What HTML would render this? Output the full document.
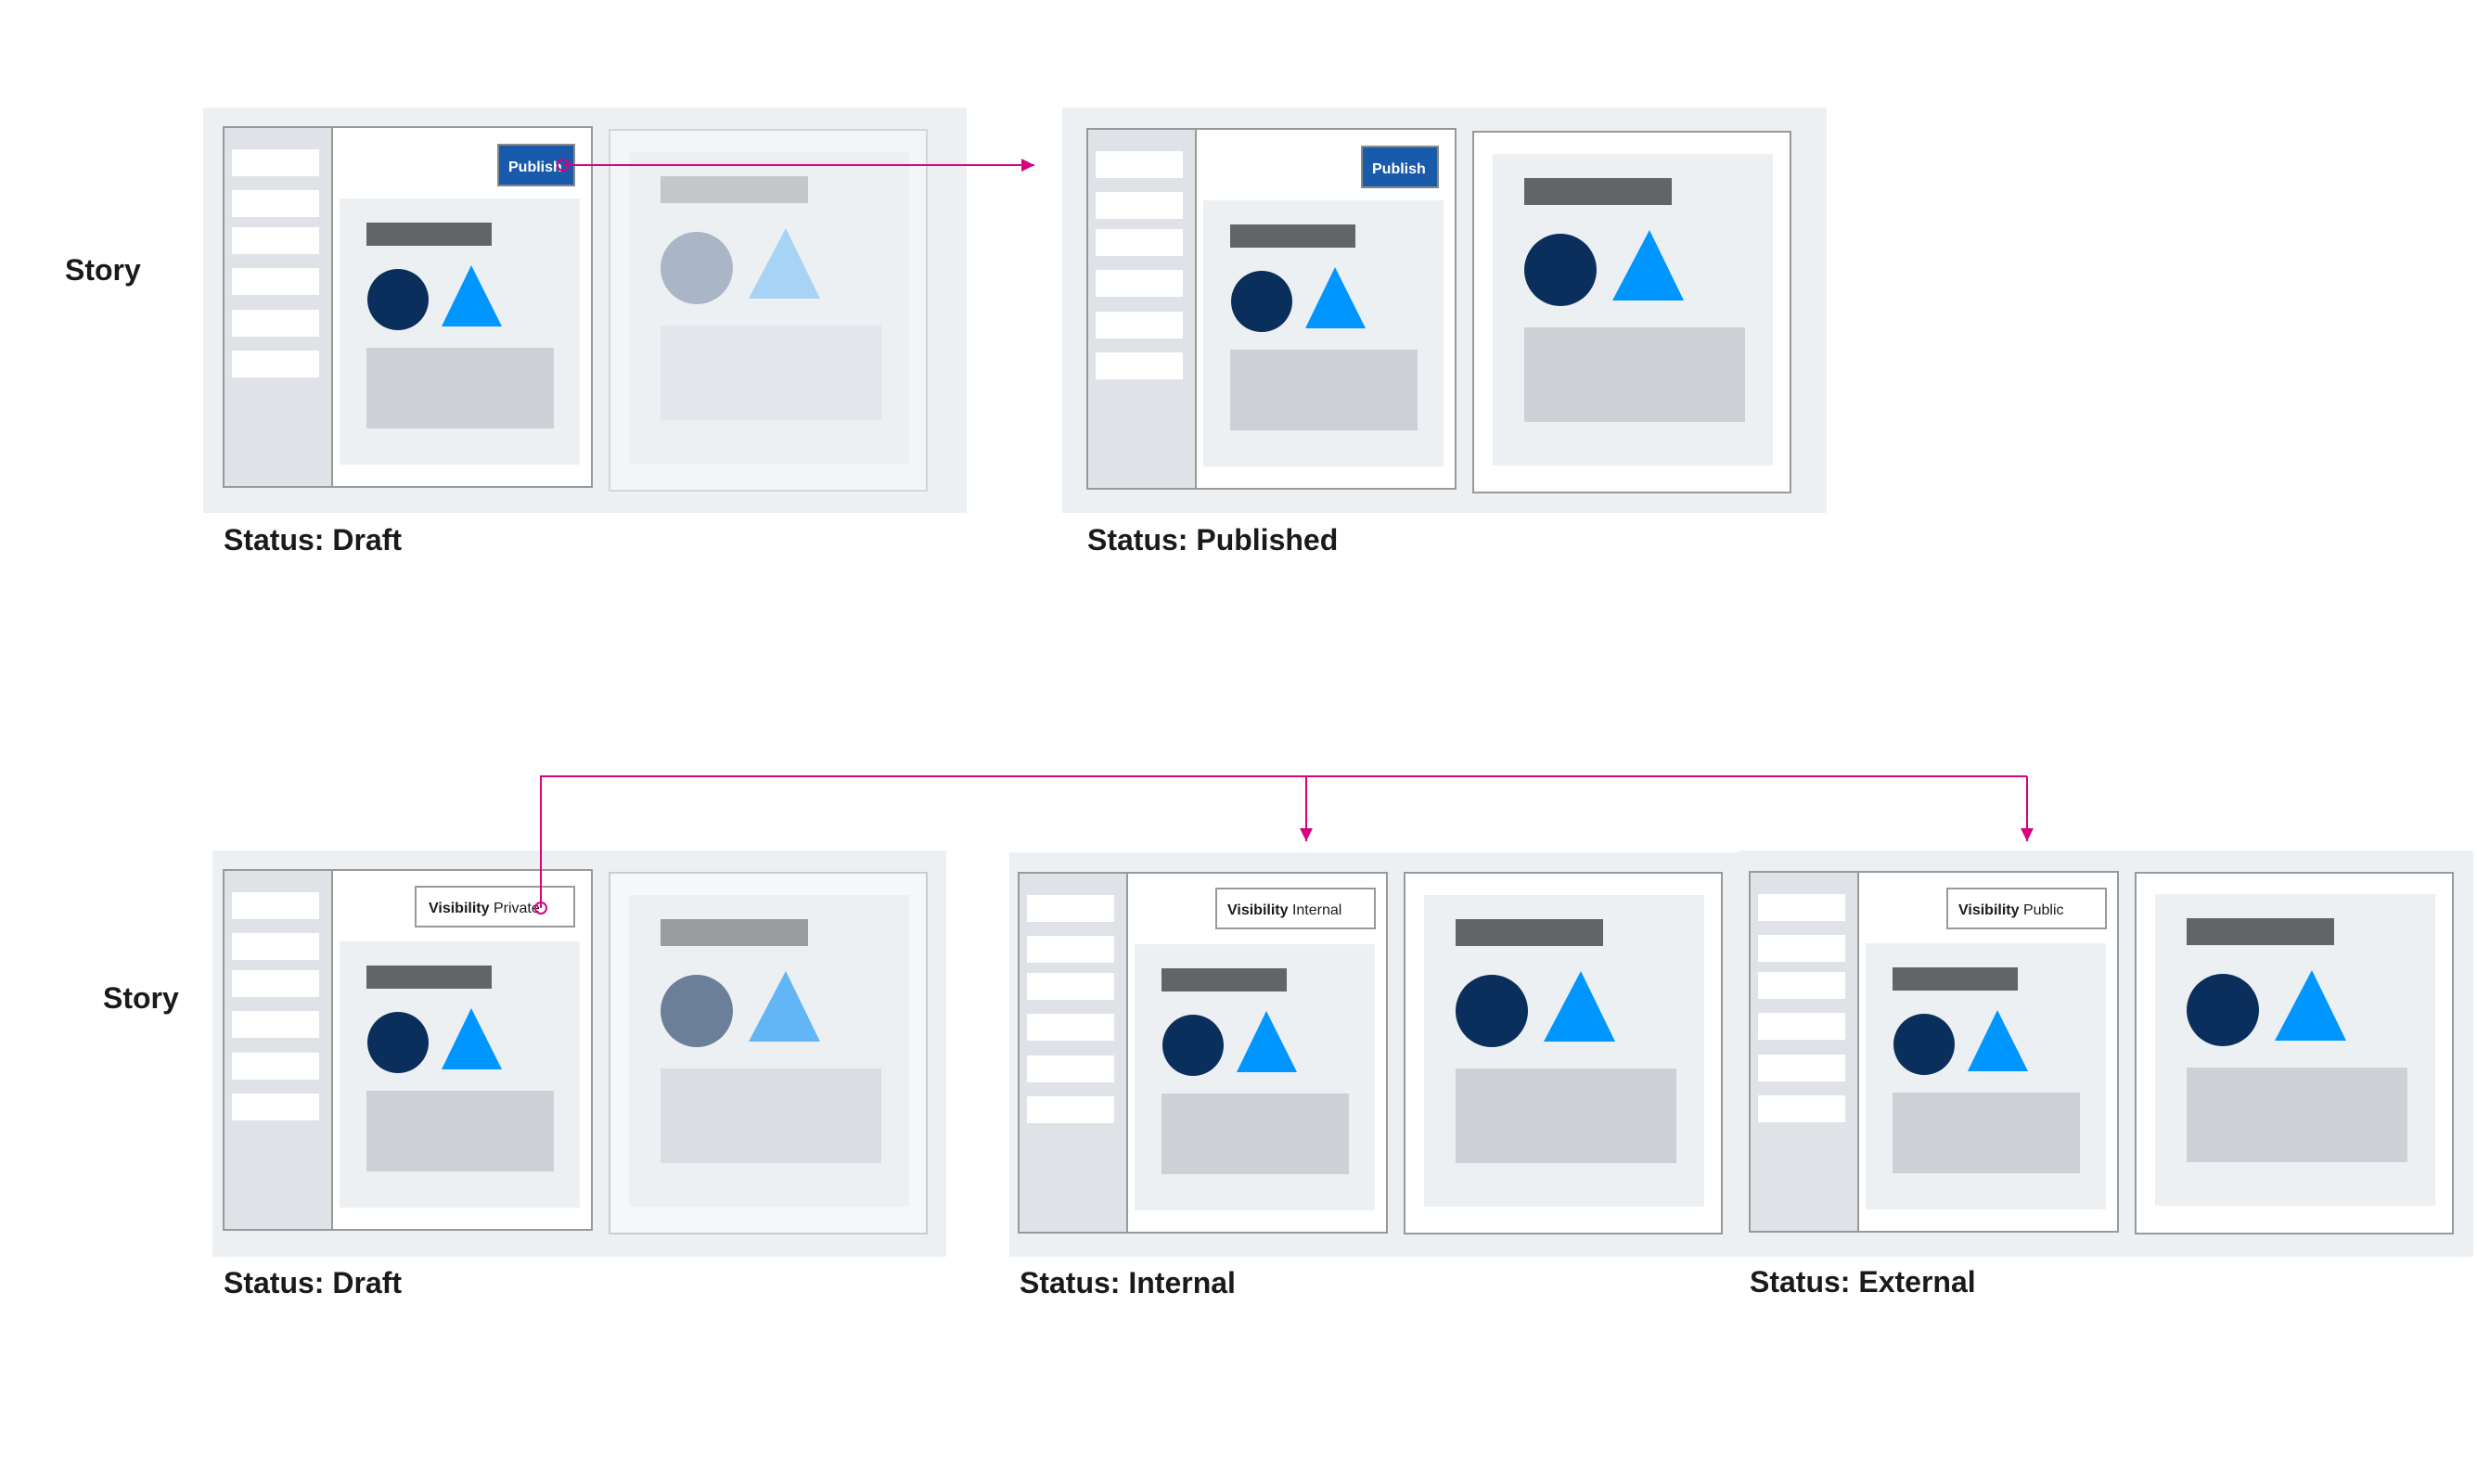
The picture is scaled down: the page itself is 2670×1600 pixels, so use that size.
<!DOCTYPE html>
<html><head><meta charset="utf-8"><style>
html,body{margin:0;padding:0;background:#fff;}
svg{display:block}
text{font-family:"Liberation Sans",sans-serif;}
</style></head><body>
<svg width="2670" height="1600" viewBox="0 0 2670 1600" xmlns="http://www.w3.org/2000/svg">
<defs>
<marker id="ah" markerWidth="10" markerHeight="10" refX="9" refY="5" orient="auto" markerUnits="userSpaceOnUse"><path d="M0,0 L10,5 L0,10 z" fill="#d9007e"/></marker>
<marker id="ah2" viewBox="0 0 10 10" markerWidth="14" markerHeight="18" refX="10" refY="5" orient="auto" markerUnits="userSpaceOnUse"><path d="M0,0 L10,5 L0,10 z" fill="#d9007e"/></marker>
</defs>

<!-- ============ TOP ROW ============ -->
<text x="70" y="302" font-size="32" font-weight="bold" fill="#1a1a1a">Story</text>

<!-- Panel 1 -->
<rect x="219" y="116" width="823" height="437" fill="#edf0f3"/>
<g transform="translate(241,137)">
  <rect x="0" y="0" width="397" height="388" fill="#fff" stroke="#999" stroke-width="2"/>
  <rect x="1" y="1" width="116" height="386" fill="#dfe2e6"/>
  <line x1="117" y1="0" x2="117" y2="388" stroke="#999" stroke-width="2"/>
  <rect x="9" y="24" width="94" height="29" fill="#fff"/><rect x="9" y="68" width="94" height="29" fill="#fff"/><rect x="9" y="108" width="94" height="29" fill="#fff"/><rect x="9" y="152" width="94" height="29" fill="#fff"/><rect x="9" y="197" width="94" height="29" fill="#fff"/><rect x="9" y="241" width="94" height="29" fill="#fff"/>
  <rect x="296" y="19" width="82" height="44" fill="#1a5aab" stroke="#888" stroke-width="2"/>
  <text x="307" y="48" font-size="16" font-weight="bold" fill="#fff">Publish</text>
  <rect x="125" y="77" width="259" height="287" fill="#edf0f3"/>
  <rect x="154" y="103" width="135" height="25" fill="#636466"/>
  <circle cx="188" cy="186" r="33" fill="#0a2f5c"/>
  <polygon points="267,149 300,215 235,215" fill="#0096ff"/>
  <rect x="154" y="238" width="202" height="87" fill="#cdd1d6"/>
</g>
<g transform="translate(241,137)">
  <rect x="416" y="3" width="342" height="389" fill="#f3f5f8" stroke="#d3d6da" stroke-width="2"/>
  <rect x="437" y="27" width="302" height="336" fill="#edf0f3"/>
  <rect x="471" y="53" width="159" height="29" fill="#c5c6c9"/>
  <ellipse cx="510" cy="152" rx="39" ry="39" fill="#aab6c6"/>
  <polygon points="606,109 643,185 566,185" fill="#a7d4f5"/>
  <rect x="471" y="214" width="238" height="102" fill="#e3e7eb"/>
</g>
<text x="241" y="593" font-size="32" font-weight="bold" fill="#1a1a1a">Status: Draft</text>

<!-- Panel 2 -->
<rect x="1145" y="116" width="824" height="437" fill="#edf0f3"/>
<g transform="translate(1172,139)">
  <rect x="0" y="0" width="397" height="388" fill="#fff" stroke="#999" stroke-width="2"/>
  <rect x="1" y="1" width="116" height="386" fill="#dfe2e6"/>
  <line x1="117" y1="0" x2="117" y2="388" stroke="#999" stroke-width="2"/>
  <rect x="9" y="24" width="94" height="29" fill="#fff"/><rect x="9" y="68" width="94" height="29" fill="#fff"/><rect x="9" y="108" width="94" height="29" fill="#fff"/><rect x="9" y="152" width="94" height="29" fill="#fff"/><rect x="9" y="197" width="94" height="29" fill="#fff"/><rect x="9" y="241" width="94" height="29" fill="#fff"/>
  <rect x="296" y="19" width="82" height="44" fill="#1a5aab" stroke="#888" stroke-width="2"/>
  <text x="307" y="48" font-size="16" font-weight="bold" fill="#fff">Publish</text>
  <rect x="125" y="77" width="259" height="287" fill="#edf0f3"/>
  <rect x="154" y="103" width="135" height="25" fill="#636466"/>
  <circle cx="188" cy="186" r="33" fill="#0a2f5c"/>
  <polygon points="267,149 300,215 235,215" fill="#0096ff"/>
  <rect x="154" y="238" width="202" height="87" fill="#cdd1d6"/>
  <rect x="416" y="3" width="342" height="389" fill="#fff" stroke="#999" stroke-width="2"/>
  <rect x="437" y="27" width="302" height="336" fill="#edf0f3"/>
  <rect x="471" y="53" width="159" height="29" fill="#636466"/>
  <circle cx="510" cy="152" r="39" fill="#0a2f5c"/>
  <polygon points="606,109 643,185 566,185" fill="#0096ff"/>
  <rect x="471" y="214" width="238" height="102" fill="#cdd1d6"/>
</g>
<text x="1172" y="593" font-size="32" font-weight="bold" fill="#1a1a1a">Status: Published</text>

<!-- top arrow -->
<line x1="607" y1="178" x2="1115" y2="178" stroke="#d9007e" stroke-width="2" marker-end="url(#ah2)"/>
<circle cx="607" cy="178" r="6" fill="none" stroke="#d9007e" stroke-width="2"/>

<!-- ============ BOTTOM ROW ============ -->
<text x="111" y="1087" font-size="32" font-weight="bold" fill="#1a1a1a">Story</text>

<!-- Draft -->
<rect x="229" y="917" width="791" height="438" fill="#edf0f3"/>
<g transform="translate(241,938)">
  <rect x="0" y="0" width="397" height="388" fill="#fff" stroke="#999" stroke-width="2"/>
  <rect x="1" y="1" width="116" height="386" fill="#dfe2e6"/>
  <line x1="117" y1="0" x2="117" y2="388" stroke="#999" stroke-width="2"/>
  <rect x="9" y="24" width="94" height="29" fill="#fff"/><rect x="9" y="68" width="94" height="29" fill="#fff"/><rect x="9" y="108" width="94" height="29" fill="#fff"/><rect x="9" y="152" width="94" height="29" fill="#fff"/><rect x="9" y="197" width="94" height="29" fill="#fff"/><rect x="9" y="241" width="94" height="29" fill="#fff"/>
  <rect x="207" y="18" width="171" height="43" fill="#fff" stroke="#999" stroke-width="2"/>
  <text x="221" y="46" font-size="16" fill="#1a1a1a"><tspan font-weight="bold">Visibility</tspan> Private</text>
  <rect x="125" y="77" width="259" height="287" fill="#edf0f3"/>
  <rect x="154" y="103" width="135" height="25" fill="#636466"/>
  <circle cx="188" cy="186" r="33" fill="#0a2f5c"/>
  <polygon points="267,149 300,215 235,215" fill="#0096ff"/>
  <rect x="154" y="238" width="202" height="87" fill="#cdd1d6"/>
  <rect x="416" y="3" width="342" height="389" fill="#f6f7f9" stroke="#c9ccd0" stroke-width="2"/>
  <rect x="437" y="27" width="302" height="336" fill="#edf0f3"/>
  <rect x="471" y="53" width="159" height="29" fill="#9a9c9f"/>
  <circle cx="510" cy="152" r="39" fill="#6b7f99"/>
  <polygon points="606,109 643,185 566,185" fill="#62b6f5"/>
  <rect x="471" y="214" width="238" height="102" fill="#dadde1"/>
</g>
<text x="241" y="1394" font-size="32" font-weight="bold" fill="#1a1a1a">Status: Draft</text>

<!-- Internal -->
<rect x="1088" y="919" width="787" height="436" fill="#edf0f3"/>
<g transform="translate(1098,941)">
  <rect x="0" y="0" width="397" height="388" fill="#fff" stroke="#999" stroke-width="2"/>
  <rect x="1" y="1" width="116" height="386" fill="#dfe2e6"/>
  <line x1="117" y1="0" x2="117" y2="388" stroke="#999" stroke-width="2"/>
  <rect x="9" y="24" width="94" height="29" fill="#fff"/><rect x="9" y="68" width="94" height="29" fill="#fff"/><rect x="9" y="108" width="94" height="29" fill="#fff"/><rect x="9" y="152" width="94" height="29" fill="#fff"/><rect x="9" y="197" width="94" height="29" fill="#fff"/><rect x="9" y="241" width="94" height="29" fill="#fff"/>
  <rect x="213" y="17" width="171" height="43" fill="#fff" stroke="#999" stroke-width="2"/>
  <text x="225" y="45" font-size="16" fill="#1a1a1a"><tspan font-weight="bold">Visibility</tspan> Internal</text>
  <rect x="125" y="77" width="259" height="287" fill="#edf0f3"/>
  <rect x="154" y="103" width="135" height="25" fill="#636466"/>
  <circle cx="188" cy="186" r="33" fill="#0a2f5c"/>
  <polygon points="267,149 300,215 235,215" fill="#0096ff"/>
  <rect x="154" y="238" width="202" height="87" fill="#cdd1d6"/>
  <rect x="416" y="0" width="342" height="389" fill="#fff" stroke="#999" stroke-width="2"/>
  <rect x="437" y="24" width="302" height="336" fill="#edf0f3"/>
  <rect x="471" y="50" width="159" height="29" fill="#636466"/>
  <circle cx="510" cy="149" r="39" fill="#0a2f5c"/>
  <polygon points="606,106 643,182 566,182" fill="#0096ff"/>
  <rect x="471" y="211" width="238" height="102" fill="#cdd1d6"/>
</g>
<text x="1099" y="1394" font-size="32" font-weight="bold" fill="#1a1a1a">Status: Internal</text>

<!-- External -->
<rect x="1875" y="917" width="791" height="438" fill="#edf0f3"/>
<g transform="translate(1886,940)">
  <rect x="0" y="0" width="397" height="388" fill="#fff" stroke="#999" stroke-width="2"/>
  <rect x="1" y="1" width="116" height="386" fill="#dfe2e6"/>
  <line x1="117" y1="0" x2="117" y2="388" stroke="#999" stroke-width="2"/>
  <rect x="9" y="24" width="94" height="29" fill="#fff"/><rect x="9" y="68" width="94" height="29" fill="#fff"/><rect x="9" y="108" width="94" height="29" fill="#fff"/><rect x="9" y="152" width="94" height="29" fill="#fff"/><rect x="9" y="197" width="94" height="29" fill="#fff"/><rect x="9" y="241" width="94" height="29" fill="#fff"/>
  <rect x="213" y="18" width="171" height="43" fill="#fff" stroke="#999" stroke-width="2"/>
  <text x="225" y="46" font-size="16" fill="#1a1a1a"><tspan font-weight="bold">Visibility</tspan> Public</text>
  <rect x="125" y="77" width="259" height="287" fill="#edf0f3"/>
  <rect x="154" y="103" width="135" height="25" fill="#636466"/>
  <circle cx="188" cy="186" r="33" fill="#0a2f5c"/>
  <polygon points="267,149 300,215 235,215" fill="#0096ff"/>
  <rect x="154" y="238" width="202" height="87" fill="#cdd1d6"/>
  <rect x="416" y="1" width="342" height="389" fill="#fff" stroke="#999" stroke-width="2"/>
  <rect x="437" y="24" width="302" height="336" fill="#edf0f3"/>
  <rect x="471" y="50" width="159" height="29" fill="#636466"/>
  <circle cx="510" cy="149" r="39" fill="#0a2f5c"/>
  <polygon points="606,106 643,182 566,182" fill="#0096ff"/>
  <rect x="471" y="211" width="238" height="102" fill="#cdd1d6"/>
</g>
<text x="1886" y="1393" font-size="32" font-weight="bold" fill="#1a1a1a">Status: External</text>

<!-- bottom connectors -->
<polyline points="583,979 583,837 2185,837" fill="none" stroke="#d9007e" stroke-width="2"/>
<line x1="1408" y1="837" x2="1408" y2="907" stroke="#d9007e" stroke-width="2" marker-end="url(#ah2)"/>
<line x1="2185" y1="837" x2="2185" y2="907" stroke="#d9007e" stroke-width="2" marker-end="url(#ah2)"/>
<circle cx="583" cy="979" r="6" fill="none" stroke="#d9007e" stroke-width="2"/>
</svg>
</body></html>
